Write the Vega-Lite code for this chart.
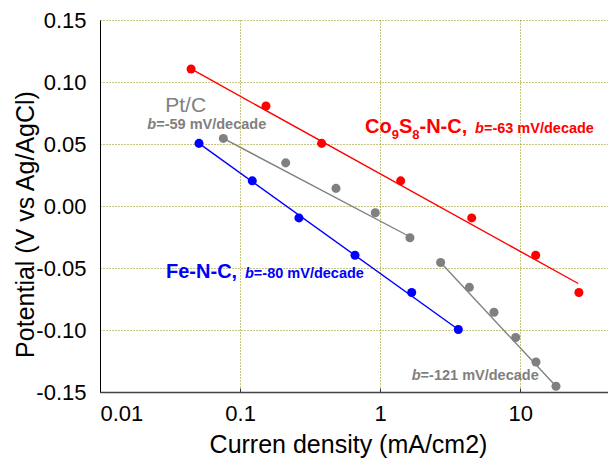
{
  "$schema": "https://vega.github.io/schema/vega-lite/v6.json",
  "width": 508,
  "height": 372,
  "autosize": {"type": "none"},
  "padding": {"left": 100, "top": 20, "right": 0, "bottom": 66},
  "background": "white",
  "config": {
    "view": {"stroke": null},
    "font": "Liberation Sans",
    "axis": {"labelFont": "Liberation Sans", "titleFont": "Liberation Sans", "labelColor": "black", "titleColor": "black", "titleFontWeight": "normal"}
  },
  "datasets": {
    "points": [
      {"series": "Co", "x": 0.0447, "y": 0.1105},
      {"series": "Co", "x": 0.153, "y": 0.0806},
      {"series": "Co", "x": 0.382, "y": 0.0505},
      {"series": "Co", "x": 1.40, "y": 0.0203},
      {"series": "Co", "x": 4.50, "y": -0.0096},
      {"series": "Co", "x": 12.88, "y": -0.0397},
      {"series": "Co", "x": 26.2, "y": -0.0698},
      {"series": "Fe", "x": 0.0509, "y": 0.0505},
      {"series": "Fe", "x": 0.1222, "y": 0.0203},
      {"series": "Fe", "x": 0.263, "y": -0.0096},
      {"series": "Fe", "x": 0.661, "y": -0.0397},
      {"series": "Fe", "x": 1.678, "y": -0.0698},
      {"series": "Fe", "x": 3.61, "y": -0.0996},
      {"series": "Pt", "x": 0.0759, "y": 0.0545},
      {"series": "Pt", "x": 0.2116, "y": 0.0348},
      {"series": "Pt", "x": 0.4836, "y": 0.0142},
      {"series": "Pt", "x": 0.9226, "y": -0.0055},
      {"series": "Pt", "x": 1.63, "y": -0.0256},
      {"series": "Pt", "x": 2.70, "y": -0.0456},
      {"series": "Pt", "x": 4.33, "y": -0.0656},
      {"series": "Pt", "x": 6.49, "y": -0.0857},
      {"series": "Pt", "x": 9.27, "y": -0.1061},
      {"series": "Pt", "x": 12.94, "y": -0.1258},
      {"series": "Pt", "x": 17.98, "y": -0.1454}
    ],
    "fits": [
      {"series": "Co", "segment": "Co", "x": 0.0447, "y": 0.1105},
      {"series": "Co", "segment": "Co", "x": 25.9, "y": -0.0625},
      {"series": "Fe", "segment": "Fe", "x": 0.0509, "y": 0.0505},
      {"series": "Fe", "segment": "Fe", "x": 3.61, "y": -0.0996},
      {"series": "Pt", "segment": "Pt-low", "x": 0.0759, "y": 0.0545},
      {"series": "Pt", "segment": "Pt-low", "x": 1.63, "y": -0.0248},
      {"series": "Pt", "segment": "Pt-high", "x": 2.70, "y": -0.0456},
      {"series": "Pt", "segment": "Pt-high", "x": 17.98, "y": -0.1454}
    ],
    "labels": [
      {"series": "Co", "part": "name", "text": "Co", "x": 0.7787, "y": 0.0586},
      {"series": "Co", "part": "sub", "text": "9", "x": 1.208, "y": 0.0537},
      {"series": "Co", "part": "name", "text": "S", "x": 1.360, "y": 0.0586},
      {"series": "Co", "part": "sub", "text": "8", "x": 1.695, "y": 0.0537},
      {"series": "Co", "part": "name", "text": "-N-C,", "x": 1.908, "y": 0.0586},
      {"series": "Co", "part": "symbol", "text": "b", "x": 4.75, "y": 0.059},
      {"series": "Co", "part": "slope", "text": "=-63 mV/decade", "x": 5.50, "y": 0.059},
      {"series": "Fe", "part": "name", "text": "Fe-N-C,", "x": 0.0296, "y": -0.0577},
      {"series": "Fe", "part": "symbol", "text": "b", "x": 0.1084, "y": -0.0577},
      {"series": "Fe", "part": "slope", "text": "=-80 mV/decade", "x": 0.1254, "y": -0.0577},
      {"series": "Pt", "part": "caption", "text": "Pt/C", "x": 0.0409, "y": 0.0757},
      {"series": "Pt", "part": "symbol", "text": "b", "x": 0.02176, "y": 0.062},
      {"series": "Pt", "part": "slope", "text": "=-59 mV/decade", "x": 0.02518, "y": 0.062},
      {"series": "Pt", "part": "symbol", "text": "b", "x": 1.678, "y": -0.1406},
      {"series": "Pt", "part": "slope", "text": "=-121 mV/decade", "x": 1.943, "y": -0.1406}
    ]
  },
  "layer": [
    {
      "data": {"name": "points"},
      "mark": {"type": "circle", "opacity": 1},
      "encoding": {
        "x": {"field": "x", "type": "quantitative",
          "scale": {"type": "log", "domain": [0.01, 42.27], "nice": false},
          "axis": {"orient": "bottom", "values": [0.01, 0.1, 1, 10], "format": "~g",
            "labelFontSize": 22, "labelPadding": 15, "ticks": true, "tickSize": -4, "tickColor": "#333333",
            "domainColor": "#444444", "domainWidth": 1.5,
            "grid": true, "gridColor": "#8c8c00", "gridDash": [1, 2], "gridWidth": 1,
            "title": "Curren density (mA/cm2)", "titleFontSize": 25,
            "titleAlign": "center", "titleBaseline": "alphabetic", "titleX": 248, "titleY": 60}},
        "y": {"field": "y", "type": "quantitative",
          "scale": {"domain": [-0.15, 0.15], "nice": false, "zero": false},
          "axis": {"orient": "left", "values": [-0.15, -0.1, -0.05, 0, 0.05, 0.1, 0.15],
            "labelExpr": "replace(format(datum.value, '.2f'), '\u2212', '-')",
            "labelFontSize": 22, "labelPadding": 14, "ticks": false,
            "domainColor": "black", "domainWidth": 1,
            "grid": true, "gridColor": "#8c8c00", "gridDash": [1, 2], "gridWidth": 1,
            "title": "Potential  (V vs Ag/AgCl)", "titleFontSize": 25, "titleAngle": 270,
            "titleAlign": "center", "titleBaseline": "alphabetic", "titleX": -67, "titleY": 204}},
        "color": {"field": "series", "type": "nominal",
          "scale": {"domain": ["Co", "Fe", "Pt"], "range": ["#ff0000", "#0000ff", "#808080"]}, "legend": null},
        "size": {"field": "series", "type": "nominal",
          "scale": {"domain": ["Co", "Fe", "Pt"], "range": [82, 82, 66]}, "legend": null}
      }
    },
    {
      "data": {"name": "fits"},
      "mark": {"type": "line", "strokeWidth": 1.4},
      "encoding": {
        "x": {"field": "x", "type": "quantitative"},
        "y": {"field": "y", "type": "quantitative"},
        "color": {"field": "series", "type": "nominal", "legend": null},
        "detail": {"field": "segment"}
      }
    },
    {
      "mark": {"type": "rule", "color": "black", "strokeWidth": 1},
      "encoding": {
        "y": {"datum": 0.15, "type": "quantitative"}
      }
    },
    {
      "data": {"name": "labels"},
      "transform": [{"filter": "datum.part == 'name'"}],
      "mark": {"type": "text", "align": "left", "baseline": "alphabetic", "fontSize": 20, "fontWeight": "bold"},
      "encoding": {
        "x": {"field": "x", "type": "quantitative"},
        "y": {"field": "y", "type": "quantitative"},
        "text": {"field": "text"},
        "color": {"field": "series", "type": "nominal", "legend": null}
      }
    },
    {
      "data": {"name": "labels"},
      "transform": [{"filter": "datum.part == 'sub'"}],
      "mark": {"type": "text", "align": "left", "baseline": "alphabetic", "fontSize": 13, "fontWeight": "bold"},
      "encoding": {
        "x": {"field": "x", "type": "quantitative"},
        "y": {"field": "y", "type": "quantitative"},
        "text": {"field": "text"},
        "color": {"field": "series", "type": "nominal", "legend": null}
      }
    },
    {
      "data": {"name": "labels"},
      "transform": [{"filter": "datum.part == 'symbol'"}],
      "mark": {"type": "text", "align": "left", "baseline": "alphabetic", "fontSize": 14.5, "fontWeight": "bold", "fontStyle": "italic"},
      "encoding": {
        "x": {"field": "x", "type": "quantitative"},
        "y": {"field": "y", "type": "quantitative"},
        "text": {"field": "text"},
        "color": {"field": "series", "type": "nominal", "legend": null}
      }
    },
    {
      "data": {"name": "labels"},
      "transform": [{"filter": "datum.part == 'slope'"}],
      "mark": {"type": "text", "align": "left", "baseline": "alphabetic", "fontSize": 14.5, "fontWeight": "bold"},
      "encoding": {
        "x": {"field": "x", "type": "quantitative"},
        "y": {"field": "y", "type": "quantitative"},
        "text": {"field": "text"},
        "color": {"field": "series", "type": "nominal", "legend": null}
      }
    },
    {
      "data": {"name": "labels"},
      "transform": [{"filter": "datum.part == 'caption'"}],
      "mark": {"type": "text", "align": "center", "baseline": "alphabetic", "fontSize": 21, "fontWeight": "normal"},
      "encoding": {
        "x": {"field": "x", "type": "quantitative"},
        "y": {"field": "y", "type": "quantitative"},
        "text": {"field": "text"},
        "color": {"field": "series", "type": "nominal", "legend": null}
      }
    }
  ]
}
